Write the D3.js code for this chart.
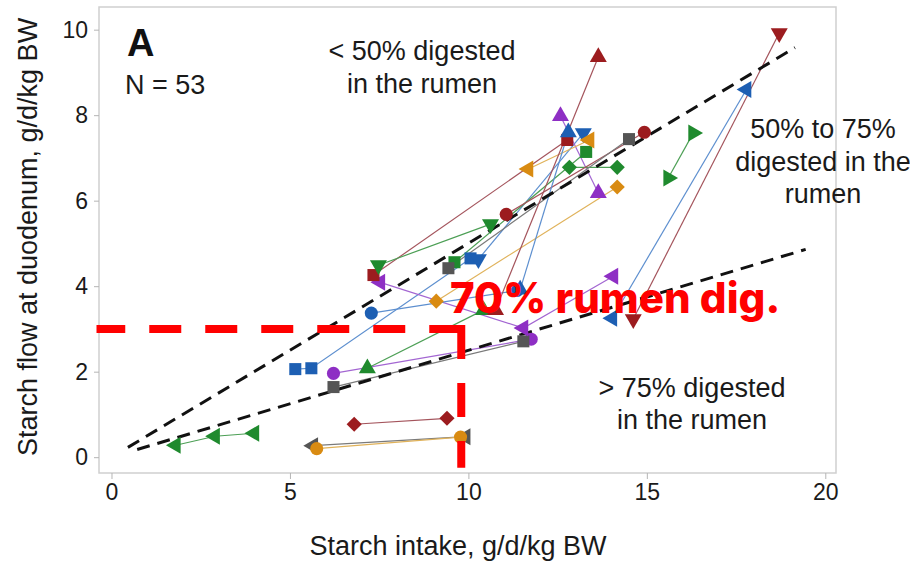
<!DOCTYPE html>
<html>
<head>
<meta charset="utf-8">
<script src="https://cdn.jsdelivr.net/npm/d3@7"></script>
<style>
  body { margin: 0; background: #fff; }
  svg { display: block; font-family: "Liberation Sans", Arial, sans-serif; }
</style>
</head>
<body>
<svg id="chart" width="910" height="564"></svg>
<script>
// ticks
const xTicks = [0, 5, 10, 15, 20];
const yTicks = [0, 2, 4, 6, 8, 10];

// studies: [starch intake, starch flow at duodenum]
const s01 = [[1.8, 0.28], [2.9, 0.49], [4.0, 0.56]];
const s02 = [[6.8, 0.77], [9.4, 0.91]];
const s03 = [[5.75, 0.2], [9.78, 0.47]];
const s04 = [[5.65, 0.27], [9.92, 0.48]];
const s05 = [[5.15, 2.06], [5.6, 2.08], [10.06, 4.65]];
const s06 = [[10.28, 4.63], [13.22, 7.58]];
const s07 = [[7.17, 2.08], [10.42, 3.44]];
const s08 = [[6.22, 1.96], [11.76, 2.76]];
const s09 = [[6.22, 1.64], [11.54, 2.71]];
const s10 = [[7.53, 4.09], [11.54, 3.02], [14.06, 4.23]];
const s11 = [[12.58, 7.98], [13.64, 6.18]];
const s12 = [[7.34, 4.26], [12.77, 7.42]];
const s13 = [[7.48, 4.49], [10.62, 5.45]];
const s14 = [[9.61, 4.56], [13.3, 7.14]];
const s15 = [[12.83, 6.78], [14.17, 6.78]];
const s16 = [[9.1, 3.65], [14.17, 6.32]];
const s17 = [[11.68, 6.74], [13.39, 7.42]];
const s18 = [[11.06, 5.68], [14.93, 7.6]];
const s19 = [[9.44, 4.42], [14.5, 7.44]];
const s20 = [[7.28, 3.37], [11.37, 3.9]];
const s21 = [[10.76, 3.44], [13.64, 9.36]];
const s22 = [[15.6, 6.53], [16.3, 7.58]];
const s23 = [[14.03, 3.25], [17.79, 8.6]];
const s24 = [[14.62, 3.23], [18.71, 9.92]];
const s25 = [[11.45, 3.92], [12.8, 7.6]];

// dashed boundary lines (50% and 75% digested)
const line50 = [[0.46, 0.23], [19.15, 9.58]];
const line75 = [[0.72, 0.18], [19.45, 4.86]];

// red reference (70% rumen digestion)
const refPoint = [9.8, 3];

const col = {
  red: "#9c1c1f", green: "#1f8a2e", blue: "#1d5fb3",
  purple: "#8e2fc4", orange: "#d98b12", gray: "#555555"
};
const lineCol = {
  red: "#a4545c", green: "#4c9f55", blue: "#5d8fcf",
  purple: "#a366d2", orange: "#e0b25a", gray: "#7a7a7a"
};

const series = [
  { pts: s01, c: "green",  m: "triLeft" },
  { pts: s02, c: "red",    m: "diamond" },
  { pts: s04, c: "gray",   m: "triLeft" },
  { pts: s03, c: "orange", m: "circle" },
  { pts: s05, c: "blue",   m: "square" },
  { pts: s06, c: "blue",   m: "triDown" },
  { pts: s07, c: "green",  m: "triUp" },
  { pts: s08, c: "purple", m: "circle" },
  { pts: s09, c: "gray",   m: "square" },
  { pts: s10, c: "purple", m: "triLeft" },
  { pts: s11, c: "purple", m: "triUp" },
  { pts: s12, c: "red",    m: "square" },
  { pts: s13, c: "green",  m: "triDown" },
  { pts: s14, c: "green",  m: "square" },
  { pts: s15, c: "green",  m: "diamond" },
  { pts: s16, c: "orange", m: "diamond" },
  { pts: s17, c: "orange", m: "triLeft" },
  { pts: s18, c: "red",    m: "circle" },
  { pts: s19, c: "gray",   m: "square" },
  { pts: s20, c: "blue",   m: "circle" },
  { pts: s21, c: "red",    m: "triUp" },
  { pts: s22, c: "green",  m: "triRight" },
  { pts: s23, c: "blue",   m: "triLeft" },
  { pts: s24, c: "red",    m: "triDown" },
  { pts: s25, c: "blue",   m: "triUp" }
];

const svg = d3.select("#chart");

const x = d3.scaleLinear().domain([-0.35, 20.3]).range([99, 836]);
const y = d3.scaleLinear().domain([-0.37, 10.53]).range([473, 7]);

// frame
svg.append("rect")
  .attr("x", x.range()[0]).attr("y", y.range()[1])
  .attr("width", x.range()[1] - x.range()[0])
  .attr("height", y.range()[0] - y.range()[1])
  .attr("fill", "none").attr("stroke", "#cfcfcf").attr("stroke-width", 1.5);

// axes
const xAxis = svg.append("g")
  .attr("transform", `translate(0,${y.range()[0]})`)
  .call(d3.axisBottom(x).tickValues(xTicks).tickSize(6).tickPadding(5));
const yAxis = svg.append("g")
  .attr("transform", `translate(${x.range()[0]},0)`)
  .call(d3.axisLeft(y).tickValues(yTicks).tickSize(5).tickPadding(6));
[xAxis, yAxis].forEach(a => {
  a.select(".domain").remove();
  a.selectAll("line").attr("stroke", "#b5b5b5");
  a.selectAll("text").attr("fill", "#1a1a1a")
    .style("font-size", "23px").style("font-family", "'Liberation Sans', Arial, sans-serif");
});

// study connecting lines
const line = d3.line().x(d => x(d[0])).y(d => y(d[1]));
svg.append("g").selectAll("path").data(series).join("path")
  .attr("d", d => line(d.pts))
  .attr("fill", "none")
  .attr("stroke", d => lineCol[d.c])
  .attr("stroke-width", 1.2);

// boundary lines
[line50, line75].forEach(l => {
  svg.append("path")
    .attr("d", line(l))
    .attr("fill", "none").attr("stroke", "#111")
    .attr("stroke-width", 3).attr("stroke-dasharray", "13,8");
});

// markers
const rot = { triUp: 0, triDown: 180, triLeft: -90, triRight: 90, diamond: 45, square: 0, circle: 0 };
function sym(m) {
  if (m === "circle") return d3.symbol(d3.symbolCircle, 135)();
  if (m === "square" || m === "diamond") return d3.symbol(d3.symbolSquare, m === "square" ? 145 : 115)();
  return d3.symbol(d3.symbolTriangle, 125)();
}
series.forEach(s => {
  svg.append("g").selectAll("path").data(s.pts).join("path")
    .attr("d", sym(s.m))
    .attr("transform", d => `translate(${x(d[0])},${y(d[1])}) rotate(${rot[s.m]})`)
    .attr("fill", col[s.c]);
});

// red 70% reference lines
const cx = x(refPoint[0]), cy = y(refPoint[1]);
svg.append("path")
  .attr("d", d3.line()([[cx, cy], [x(-0.42), cy]]))
  .attr("stroke", "#ff0000").attr("stroke-width", 8).attr("fill", "none")
  .attr("stroke-dasharray", "32,24");
svg.append("path")
  .attr("d", d3.line()([[cx, cy - 4], [cx, y(-0.25)]]))
  .attr("stroke", "#ff0000").attr("stroke-width", 8).attr("fill", "none")
  .attr("stroke-dasharray", "34,24");

svg.append("text")
  .attr("x", 450).attr("y", 313)
  .attr("fill", "#ff0000")
  .style("font-family", "Inter, 'Open Sans', sans-serif")
  .style("font-weight", 800).style("font-size", "42px")
  .text("70% rumen dig.");

// annotations
const note = (lines, cxp, y0, dy) => {
  lines.forEach((t, i) => svg.append("text")
    .attr("x", cxp).attr("y", y0 + i * dy)
    .attr("text-anchor", "middle").attr("fill", "#1a1a1a")
    .style("font-size", "27px").text(t));
};
note(["< 50% digested", "in the rumen"], 422, 60, 33);
note(["50% to 75%", "digested in the", "rumen"], 823, 138, 32.5);
note(["> 75% digested", "in the rumen"], 692, 397, 32);

svg.append("text").attr("x", 127).attr("y", 56)
  .style("font-size", "38px").style("font-weight", "bold").attr("fill", "#111").text("A");
svg.append("text").attr("x", 125).attr("y", 94)
  .style("font-size", "27px").attr("fill", "#1a1a1a").text("N = 53");

// axis titles
svg.append("text")
  .attr("x", 458).attr("y", 555)
  .attr("text-anchor", "middle").attr("fill", "#1a1a1a")
  .style("font-size", "27px")
  .text("Starch intake, g/d/kg BW");
svg.append("text")
  .attr("transform", "translate(37,237) rotate(-90)")
  .attr("text-anchor", "middle").attr("fill", "#1a1a1a")
  .style("font-size", "27px")
  .text("Starch flow at duodenum, g/d/kg BW");
</script>
</body>
</html>
